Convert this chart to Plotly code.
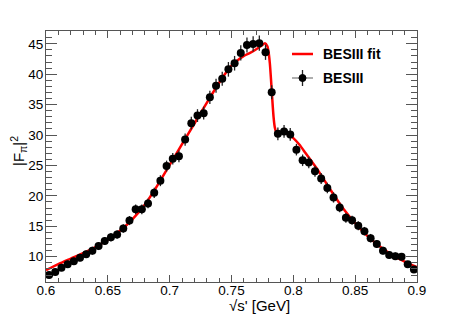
import plotly.graph_objects as go

# Data points (BESIII)
x_data = [0.6025 + 0.005 * i for i in range(60)]
y_data = [7.0, 7.5, 8.2, 8.75, 9.25, 9.85, 10.4, 11.0, 11.75, 12.6,
          13.2, 13.65, 14.65, 15.95, 17.8, 17.8, 18.75, 20.5, 22.5, 24.9,
          26.1, 26.5, 29.25, 31.95, 33.2, 33.6, 36.2, 38.1, 39.25, 40.8,
          41.8, 43.5, 44.8, 44.97, 45.1, 43.6, 37.05, 30.2, 30.6, 30.1,
          27.6, 25.85, 25.5, 24.05, 22.85, 21.3, 19.75, 18.1, 16.4, 16.0,
          15.1, 14.2, 13.05, 12.1, 11.0, 10.3, 10.1, 10.0, 8.75, 7.9]
y_err = [0.55, 0.55, 0.55, 0.6, 0.6, 0.6, 0.6, 0.65, 0.65, 0.65,
         0.7, 0.7, 0.7, 0.75, 0.8, 0.8, 0.8, 0.85, 0.9, 0.9,
         0.95, 0.95, 1.0, 1.05, 1.05, 1.05, 1.1, 1.15, 1.15, 1.2,
         1.2, 1.25, 1.25, 1.25, 1.25, 1.25, 1.15, 1.05, 1.05, 1.05,
         0.95, 0.95, 0.95, 0.9, 0.9, 0.85, 0.85, 0.8, 0.8, 0.75,
         0.75, 0.7, 0.7, 0.65, 0.65, 0.6, 0.6, 0.6, 0.55, 0.55]

# Fit curve (BESIII fit)
x_fit = [0.600, 0.610, 0.620, 0.630, 0.640, 0.650, 0.660, 0.670, 0.680, 0.690,
         0.700, 0.710, 0.720, 0.730, 0.740, 0.745, 0.750, 0.755, 0.760, 0.765,
         0.770, 0.775, 0.777, 0.779, 0.780, 0.781, 0.782, 0.783, 0.784, 0.785,
         0.786, 0.788, 0.790, 0.795, 0.800, 0.805, 0.810, 0.820, 0.830, 0.840,
         0.850, 0.860, 0.870, 0.880, 0.890, 0.900]
y_fit = [7.8, 8.8, 9.7, 10.6, 11.6, 12.8, 14.3, 16.2, 18.6, 21.7,
         25.1, 28.5, 31.9, 35.3, 38.6, 40.1, 41.4, 42.3, 43.0, 43.5,
         44.1, 44.8, 45.1, 44.6, 43.6, 41.8, 39.0, 35.8, 33.0, 31.3,
         30.6, 30.4, 30.4, 30.2, 29.5, 28.4, 27.0, 24.2, 21.0, 18.0,
         15.5, 13.4, 11.7, 10.3, 9.2, 8.3]

x_ticks = [0.6, 0.65, 0.7, 0.75, 0.8, 0.85, 0.9]
x_ticklabels = ["0.6", "0.65", "0.7", "0.75", "0.8", "0.85", "0.9"]
y_ticks = [10, 15, 20, 25, 30, 35, 40, 45]

FONT = "Liberation Sans, Arial, sans-serif"

# page offset (body margin) compensation
OFF = 8
L, T, PW, PH = 46 - OFF, 31 - OFF, 371, 251
W, H = 463 - OFF, 314 - OFF

fig = go.Figure()
fig.add_trace(go.Scatter(x=x_fit, y=y_fit, mode="lines",
                         line=dict(color="#ff0000", width=2.5, shape="spline", smoothing=0.6),
                         showlegend=False))
fig.add_trace(go.Scatter(x=x_data, y=y_data, mode="markers",
                         marker=dict(color="black", size=8),
                         error_y=dict(type="data", array=y_err, color="#222222", thickness=1.3, width=0),
                         showlegend=False))

axis_common = dict(showgrid=False, zeroline=False, showline=True, linecolor="#555555",
                   linewidth=1, mirror="ticks", ticks="inside", tickcolor="#555555",
                   tickfont=dict(family=FONT, size=13.5, color="black"))

fig.update_xaxes(range=[0.6, 0.9], tickvals=x_ticks, ticktext=x_ticklabels, ticklen=7,
                 ticklabelstandoff=-4,
                 minor=dict(dtick=0.01, tick0=0.6, ticks="inside", ticklen=4, tickcolor="#555555"),
                 **axis_common)
fig.update_yaxes(range=[5.85, 47.1], tickvals=y_ticks, ticklen=11,
                 ticklabelstandoff=-1,
                 minor=dict(dtick=1, tick0=0, ticks="inside", ticklen=6, tickcolor="#555555"),
                 **axis_common)


def px_x(p):
    return (p - 46) / PW


def px_y(p):
    return 1 - (p - 31) / PH


annotations = [
    dict(text="√s' [GeV]", x=px_x(259.5), y=px_y(305), xref="paper", yref="paper",
         xanchor="center", yanchor="middle", showarrow=False,
         font=dict(family=FONT, size=15, color="black")),
    dict(text="|F<sub>π</sub>|<sup>2</sup>", x=px_x(18), y=px_y(151), xref="paper", yref="paper",
         xanchor="center", yanchor="middle", textangle=-90, showarrow=False,
         font=dict(family=FONT, size=15, color="black")),
    dict(text="<b>BESIII fit</b>", x=px_x(320.5), y=px_y(54),
         xref="paper", yref="paper", xanchor="left", yanchor="middle", showarrow=False,
         font=dict(family=FONT, size=14, color="black")),
    dict(text="<b>BESIII</b>", x=px_x(320.5), y=px_y(78),
         xref="paper", yref="paper", xanchor="left", yanchor="middle", showarrow=False,
         font=dict(family=FONT, size=14, color="black")),
]

shapes = [
    dict(type="line", xref="paper", yref="paper", x0=px_x(292), x1=px_x(313),
         y0=px_y(54), y1=px_y(54), line=dict(color="#ff0000", width=2.5)),
    dict(type="line", xref="paper", yref="paper", x0=px_x(292), x1=px_x(313),
         y0=px_y(78), y1=px_y(78), line=dict(color="#777777", width=1.2)),
    dict(type="line", xref="paper", yref="paper", x0=px_x(302.5), x1=px_x(302.5),
         y0=px_y(70), y1=px_y(86), line=dict(color="#222222", width=1.3)),
    dict(type="circle", xref="paper", yref="paper", x0=px_x(299), x1=px_x(306),
         y0=px_y(74.5), y1=px_y(81.5), fillcolor="black", line=dict(color="black", width=1)),
]

fig.update_layout(width=W, height=H, margin=dict(l=L, r=W - L - PW, t=T, b=H - T - PH),
                  paper_bgcolor="white", plot_bgcolor="white",
                  annotations=annotations, shapes=shapes)

fig.write_html("out.html")
